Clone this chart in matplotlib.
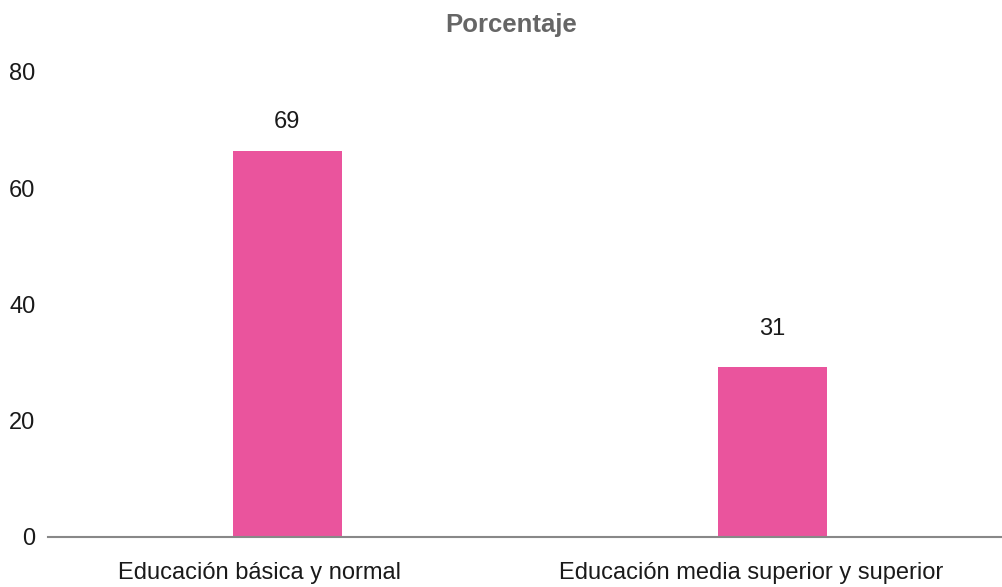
import matplotlib.pyplot as plt

# Data
categories = ['Educación básica y normal', 'Educación media superior y superior']
bar_heights = [66.4, 29.3]
value_labels = ['69', '31']
yticks = [0, 20, 40, 60, 80]

plt.rcParams['font.family'] = ['Liberation Sans', 'DejaVu Sans']

fig = plt.figure(figsize=(10.03, 5.87), dpi=100)
ax = fig.add_axes([0.0479, 0.0852, 0.9521, 0.7922])

x = list(range(len(categories)))
ax.bar(x, bar_heights, width=0.225, color='#EA549D', zorder=2)

# value labels above each bar
label_offsets = [21, 27]
for xi, h, lab, off in zip(x, bar_heights, value_labels, label_offsets):
    ax.annotate(lab, xy=(xi, h), xytext=(0, off), textcoords='offset points',
                ha='center', va='center', fontsize=17, color='#1a1a1a')

ax.set_xlim(-0.493, 1.476)
ax.set_ylim(0, 80)
ax.set_yticks(yticks)
ax.set_yticklabels([str(t) for t in yticks], fontsize=17, color='#1a1a1a')
ax.tick_params(axis='y', length=0, pad=9)

# category labels (slightly left of the bar centres, as in the original)
ax.set_xticks([])
cat_offsets = [-20, -15]
for xi, cat, off in zip(x, categories, cat_offsets):
    ax.annotate(cat, xy=(xi, 0), xycoords=('data', 'axes fraction'),
                xytext=(off, -26), textcoords='offset points',
                ha='center', va='center', fontsize=17, color='#1a1a1a')

for side in ['top', 'right', 'left']:
    ax.spines[side].set_visible(False)
ax.spines['bottom'].set_color('#888888')
ax.spines['bottom'].set_linewidth(1.5)

fig.text(511 / 1003, 1 - 25 / 587, 'Porcentaje', ha='center', va='center',
         fontsize=18.5, fontweight='bold', color='#666666')

plt.savefig('out.png', dpi=100)
